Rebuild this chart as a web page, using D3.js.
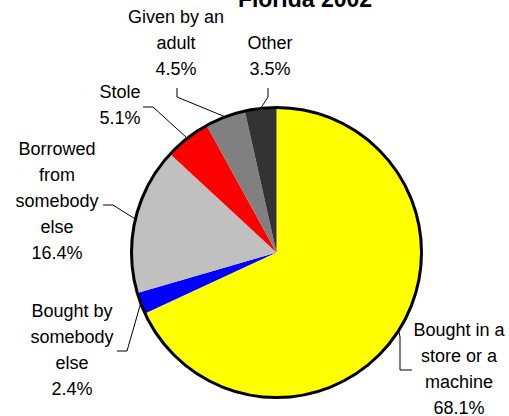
<!DOCTYPE html>
<html>
<head>
<meta charset="utf-8">
<script src="https://cdn.jsdelivr.net/npm/d3@7"></script>
<style>
  html, body { margin: 0; padding: 0; background: #fff; }
  svg { display: block; font-family: "Liberation Sans", Arial, sans-serif; }
</style>
</head>
<body>
<div id="chart"></div>
<script>
// data
const title = "Florida 2002";
const categories = ["Bought in a store or a machine", "Bought by somebody else", "Borrowed from somebody else", "Stole", "Given by an adult", "Other"];
const values = [68.1, 2.4, 16.4, 5.1, 4.5, 3.5];
const labelLines = [
  ["Bought in a", "store or a", "machine"],
  ["Bought by", "somebody", "else"],
  ["Borrowed", "from", "somebody", "else"],
  ["Stole"],
  ["Given by an", "adult"],
  ["Other"]
];
const colors = ["#ffff00", "#0000ff", "#c0c0c0", "#ff0000", "#808080", "#333333"];

// label placement (text centre, first baseline, leader elbow points)
const labelPos = [
  { x: 459, y: 336, elbow: [[400, 337], [400, 370], [412, 370]] },
  { x: 72, y: 317, elbow: [[127, 351], [117, 351]] },
  { x: 57, y: 155, elbow: [[113, 205], [103, 205]] },
  { x: 120, y: 98, elbow: [[153, 107], [143, 107]] },
  { x: 176, y: 23, elbow: [[177, 97], [177, 88]] },
  { x: 270, y: 49, elbow: [[268, 97], [268, 88]] }
];

const width = 509, height = 416;
const cx = 276.5, cy = 252.5, r = 145;
const lineH = 26;

const svg = d3.select("#chart").append("svg")
  .attr("width", width)
  .attr("height", height);

const color = d3.scaleOrdinal().domain(categories).range(colors);

const pie = d3.pie().sort(null).value(d => d.value);
const arcs = pie(categories.map((c, i) => ({ name: c, value: values[i], i: i })));
const arc = d3.arc().innerRadius(0).outerRadius(r);

const g = svg.append("g").attr("transform", `translate(${cx},${cy})`);

g.selectAll("path.slice")
  .data(arcs)
  .enter()
  .append("path")
  .attr("class", "slice")
  .attr("d", arc)
  .attr("fill", d => color(d.data.name));

// outer border
g.append("circle")
  .attr("r", r)
  .attr("fill", "none")
  .attr("stroke", "#000")
  .attr("stroke-width", 3);

// leader lines
const line = d3.line();
svg.selectAll("path.leader")
  .data(arcs)
  .enter()
  .append("path")
  .attr("class", "leader")
  .attr("fill", "none")
  .attr("stroke", "#000")
  .attr("stroke-width", 1)
  .attr("d", d => {
    const a = (d.startAngle + d.endAngle) / 2;
    const p0 = [cx + r * Math.sin(a), cy - r * Math.cos(a)];
    return line([p0].concat(labelPos[d.data.i].elbow));
  });

// labels
const fmt = d3.format(".1f");
const labels = svg.selectAll("text.label")
  .data(arcs)
  .enter()
  .append("text")
  .attr("class", "label")
  .attr("text-anchor", "middle")
  .attr("font-size", "18px")
  .attr("fill", "#000");

labels.each(function(d) {
  const pos = labelPos[d.data.i];
  const lines = labelLines[d.data.i].concat([fmt(d.data.value) + "%"]);
  lines.forEach((t, k) => {
    d3.select(this).append("tspan")
      .attr("x", pos.x)
      .attr("y", pos.y + k * lineH)
      .text(t);
  });
});

// title (cut off at top, as in the original)
svg.append("text")
  .attr("x", 305)
  .attr("y", 7)
  .attr("text-anchor", "middle")
  .attr("font-size", "23px")
  .attr("font-weight", "bold")
  .text(title);
</script>
</body>
</html>
